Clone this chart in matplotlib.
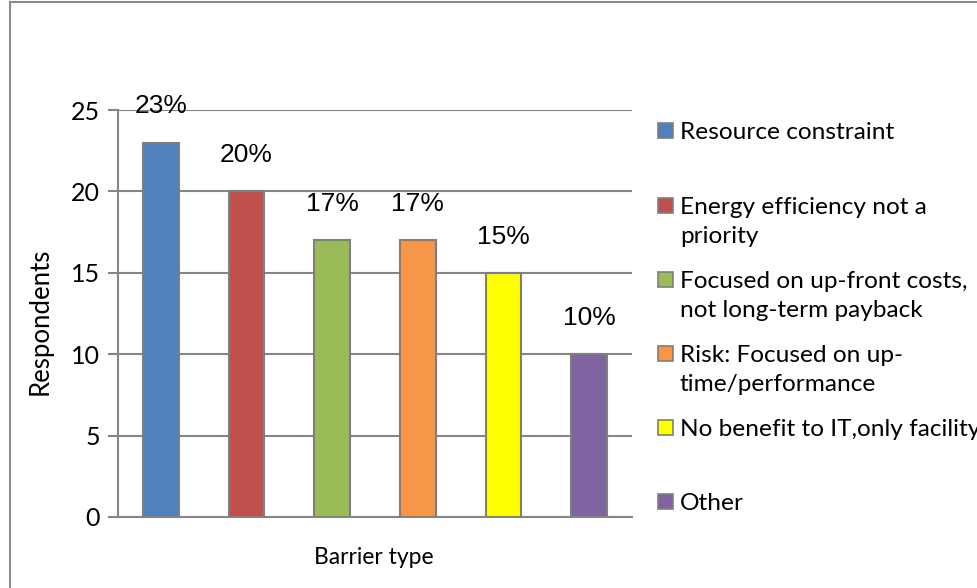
import matplotlib
matplotlib.use("Agg")
import matplotlib.pyplot as plt
from matplotlib.patches import Rectangle
from matplotlib.lines import Line2D

# === Daten ===
barriers = [
    "Resource constraint",
    "Energy efficiency not a\npriority",
    "Focused on up-front costs,\nnot long-term payback",
    "Risk: Focused on up-\ntime/performance",
    "No benefit to IT,only facility",
    "Other",
]
respondents = [23, 20, 17, 17, 15, 10]
percent_labels = ["23%", "20%", "17%", "17%", "15%", "10%"]
colors = ["#4F81BD", "#C0504D", "#9BBB59", "#F79646", "#FFFF00", "#8064A2"]
yticks = [0, 5, 10, 15, 20, 25]

W, H = 977, 588
grey = "#868686"
txt_font = "Lato"

fig = plt.figure(figsize=(W / 100, H / 100), dpi=100)

# Rahmen um das Diagramm (links und oben sichtbar)
fig.add_artist(Line2D([10 / W, 10 / W], [0, 1 - 2 / H], color="#8c8c8c", lw=1.5))
fig.add_artist(Line2D([10 / W, 1], [1 - 2 / H, 1 - 2 / H], color="#8c8c8c", lw=1.5))

ax = fig.add_axes([118 / W, 1 - 517 / H, (632 - 118) / W, (517 - 110) / H])

x = list(range(len(respondents)))
bars = ax.bar(x, respondents, width=0.42, color=colors, edgecolor="#7F7F7F",
              linewidth=1.5, zorder=3)

for xi, val, lab in zip(x, respondents, percent_labels):
    ax.annotate(lab, (xi, val), xytext=(0, 26), textcoords="offset points",
                ha="center", va="center", fontsize=19,
                family="Liberation Sans", color="black", zorder=5)

ax.set_xlim(-0.5, len(respondents) - 0.5)
ax.set_ylim(0, 25)
ax.set_yticks(yticks)
ax.set_xticks([])
ax.yaxis.grid(True, color=grey, linewidth=1.5, zorder=0)

for side in ["top", "right"]:
    ax.spines[side].set_visible(False)
ax.spines["left"].set_color(grey)
ax.spines["left"].set_linewidth(1.5)
ax.spines["bottom"].set_color(grey)
ax.spines["bottom"].set_linewidth(1.5)
ax.tick_params(axis="y", length=7, width=1.5, color=grey, labelsize=18, pad=6)
for t in ax.get_yticklabels():
    t.set_family(txt_font)

fig.text(40 / W, 1 - 321 / H, "Respondents", rotation=90, ha="center", va="center",
         fontsize=18.5, family=txt_font)
fig.text(374 / W, 1 - 557 / H, "Barrier type", ha="center", va="center",
         fontsize=16.5, family=txt_font)

# Legende von Hand (letzter Eintrag ist wie im Original am Rand abgeschnitten)
first_line = [132, 207, 281, 355, 429, 503]
for name, col, yc in zip(barriers, colors, first_line):
    fig.add_artist(Rectangle((658 / W, 1 - (yc + 6) / H), 15 / W, 15 / H,
                             facecolor=col, edgecolor="#7F7F7F", lw=1.2))
    fig.text(680 / W, 1 - (yc - 10) / H, name, ha="left", va="top",
             fontsize=17.6, family=txt_font, linespacing=1.45)

fig.savefig("out.png", dpi=100)
